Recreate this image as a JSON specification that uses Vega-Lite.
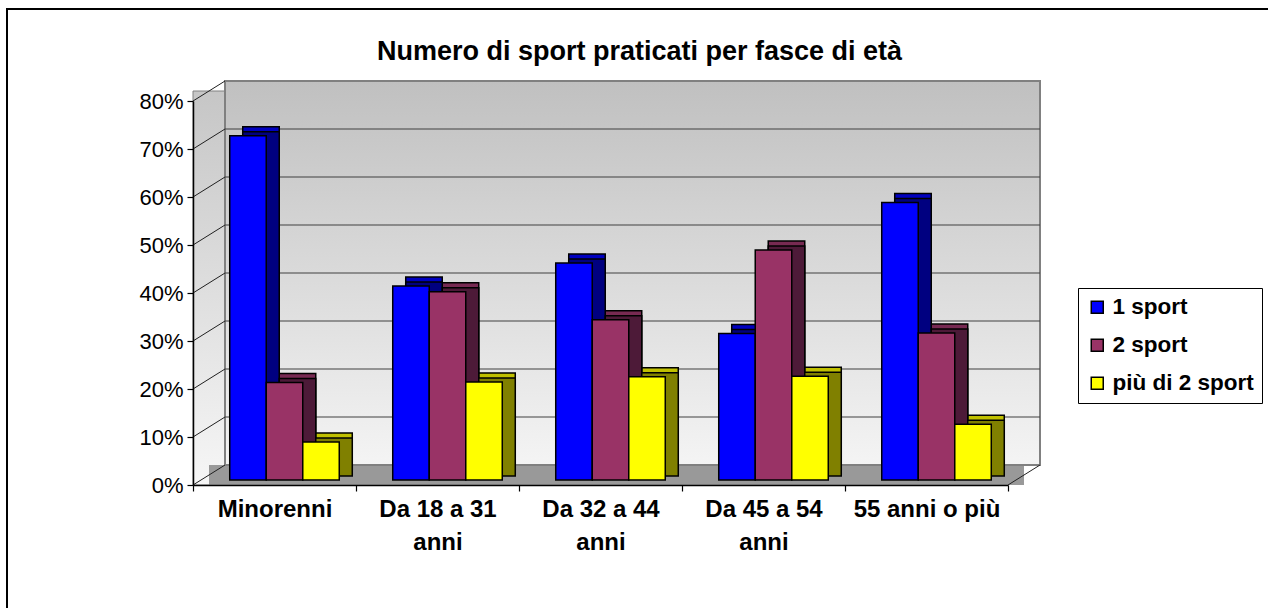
{
  "$schema": "https://vega.github.io/schema/vega-lite/v6.json",
  "width": 815,
  "height": 384,
  "autosize": {"type": "none"},
  "padding": {"left": 193, "top": 101, "right": 260, "bottom": 123},
  "background": "white",
  "title": {
    "text": "Numero di sport praticati per fasce di età",
    "font": "Liberation Sans",
    "fontSize": 27,
    "fontWeight": "bold",
    "color": "black",
    "anchor": "middle",
    "frame": "group",
    "dx": 39,
    "offset": -79,
    "baseline": "alphabetic"
  },
  "datasets": {
    "sport": [
      {"fascia": "Minorenni", "sport": "1 sport", "valore": 0.717},
      {"fascia": "Minorenni", "sport": "2 sport", "valore": 0.203},
      {"fascia": "Minorenni", "sport": "più di 2 sport", "valore": 0.079},
      {"fascia": "Da 18 a 31 anni", "sport": "1 sport", "valore": 0.404},
      {"fascia": "Da 18 a 31 anni", "sport": "2 sport", "valore": 0.392},
      {"fascia": "Da 18 a 31 anni", "sport": "più di 2 sport", "valore": 0.204},
      {"fascia": "Da 32 a 44 anni", "sport": "1 sport", "valore": 0.452},
      {"fascia": "Da 32 a 44 anni", "sport": "2 sport", "valore": 0.334},
      {"fascia": "Da 32 a 44 anni", "sport": "più di 2 sport", "valore": 0.215},
      {"fascia": "Da 45 a 54 anni", "sport": "1 sport", "valore": 0.305},
      {"fascia": "Da 45 a 54 anni", "sport": "2 sport", "valore": 0.479},
      {"fascia": "Da 45 a 54 anni", "sport": "più di 2 sport", "valore": 0.216},
      {"fascia": "55 anni o più", "sport": "1 sport", "valore": 0.578},
      {"fascia": "55 anni o più", "sport": "2 sport", "valore": 0.306},
      {"fascia": "55 anni o più", "sport": "più di 2 sport", "valore": 0.116}
    ],
    "livelli": [
      {"pct": 0.1}, {"pct": 0.2}, {"pct": 0.3}, {"pct": 0.4},
      {"pct": 0.5}, {"pct": 0.6}, {"pct": 0.7}
    ],
    "diagonali": [
      {"pct": 0}, {"pct": 0.1}, {"pct": 0.2}, {"pct": 0.3}, {"pct": 0.4},
      {"pct": 0.5}, {"pct": 0.6}, {"pct": 0.7}, {"pct": 0.8}
    ],
    "uno": [{"k": 1}]
  },
  "layer": [
    {
      "layer": [
        {
          "data": {"name": "uno"},
          "mark": {
            "type": "rect",
            "color": {"gradient": "linear", "x1": 0, "y1": 0, "x2": 0, "y2": 1,
              "stops": [{"offset": 0, "color": "#c6c6c6"}, {"offset": 1, "color": "#f6f6f6"}]},
            "stroke": "#808080", "strokeWidth": 1,
            "x2Offset": 32, "yOffset": -10
          },
          "encoding": {
            "x": {"datum": 0, "type": "quantitative", "scale": {"domain": [0, 1]}, "axis": null},
            "x2": {"datum": 0},
            "y": {"datum": 0.8, "type": "quantitative", "scale": {"domain": [0, 0.8], "nice": false}, "axis": null},
            "y2": {"datum": 0}
          }
        },
        {
          "data": {"name": "uno"},
          "mark": {"type": "rect", "color": "#999999", "xOffset": 16, "x2Offset": 16, "yOffset": -20},
          "encoding": {
            "x": {"datum": 0, "type": "quantitative", "axis": null},
            "x2": {"datum": 1},
            "y": {"datum": 0, "type": "quantitative", "axis": null},
            "y2": {"datum": 0}
          }
        },
        {
          "data": {"name": "uno"},
          "mark": {
            "type": "rect",
            "color": {"gradient": "linear", "x1": 0, "y1": 0, "x2": 0, "y2": 1,
              "stops": [{"offset": 0, "color": "#c0c0c0"}, {"offset": 1, "color": "#f4f4f4"}]},
            "stroke": "#808080", "strokeWidth": 2,
            "xOffset": 32, "x2Offset": 32, "yOffset": -20, "y2Offset": -20
          },
          "encoding": {
            "x": {"datum": 0, "type": "quantitative", "axis": null},
            "x2": {"datum": 1},
            "y": {"datum": 0.8, "type": "quantitative", "axis": null},
            "y2": {"datum": 0}
          }
        },
        {
          "data": {"name": "livelli"},
          "mark": {"type": "rule", "color": "#404040", "strokeWidth": 1.2, "xOffset": 32, "x2Offset": 32, "yOffset": -20},
          "encoding": {
            "x": {"datum": 0, "type": "quantitative", "axis": null},
            "x2": {"datum": 1},
            "y": {"field": "pct", "type": "quantitative", "axis": null}
          }
        },
        {
          "data": {"name": "diagonali"},
          "mark": {"type": "rule", "color": "#202020", "strokeWidth": 1, "x2Offset": 32, "y2Offset": -20},
          "encoding": {
            "x": {"datum": 0, "type": "quantitative", "axis": null},
            "x2": {"datum": 0},
            "y": {"field": "pct", "type": "quantitative", "axis": null},
            "y2": {"field": "pct"}
          }
        },
        {
          "data": {"name": "uno"},
          "mark": {"type": "rule", "color": "#202020", "strokeWidth": 1, "x2Offset": 32, "y2Offset": -20},
          "encoding": {
            "x": {"datum": 1, "type": "quantitative", "axis": null},
            "x2": {"datum": 1},
            "y": {"datum": 0, "type": "quantitative", "axis": null},
            "y2": {"datum": 0}
          }
        },
        {
          "data": {"name": "uno"},
          "mark": {"type": "rect", "filled": false, "color": "black", "strokeWidth": 2,
            "xOffset": -186, "x2Offset": 300, "yOffset": -92, "y2Offset": 200},
          "encoding": {
            "x": {"datum": 0, "type": "quantitative", "axis": null},
            "x2": {"datum": 1},
            "y": {"datum": 0.8, "type": "quantitative", "axis": null},
            "y2": {"datum": 0}
          }
        }
      ]
    },
    {
      "data": {"name": "sport"},
      "encoding": {
        "xOffset": {"field": "sport", "sort": ["1 sport", "2 sport", "più di 2 sport"], "scale": {"paddingInner": 0}},
        "y": {"field": "valore", "type": "quantitative", "axis": null}
      },
      "layer": [
        {
          "mark": {"type": "bar", "yOffset": -14, "y2Offset": -14, "stroke": "black", "strokeWidth": 1.5},
          "encoding": {
            "x": {"field": "fascia", "type": "nominal",
              "sort": ["Minorenni", "Da 18 a 31 anni", "Da 32 a 44 anni", "Da 45 a 54 anni", "55 anni o più"],
              "scale": {"paddingInner": 0.328, "paddingOuter": 0.164, "range": [23, 838]}, "axis": null},
            "color": {"field": "sport", "type": "nominal",
              "scale": {"domain": ["1 sport", "2 sport", "più di 2 sport"], "range": ["#0000c0", "#772a52", "#c0c000"]},
              "legend": null}
          }
        },
        {
          "mark": {"type": "bar", "yOffset": -9, "y2Offset": -9, "stroke": "black", "strokeWidth": 1.5},
          "encoding": {
            "x": {"field": "fascia", "type": "nominal",
              "sort": ["Minorenni", "Da 18 a 31 anni", "Da 32 a 44 anni", "Da 45 a 54 anni", "55 anni o più"],
              "scale": {"paddingInner": 0.328, "paddingOuter": 0.164, "range": [23, 838]}, "axis": null},
            "color": {"field": "sport", "type": "nominal",
              "scale": {"domain": ["1 sport", "2 sport", "più di 2 sport"], "range": ["#000080", "#4d1a38", "#808000"]},
              "legend": null}
          }
        },
        {
          "mark": {"type": "bar", "yOffset": -5, "y2Offset": -5, "stroke": "black", "strokeWidth": 1.5, "opacity": 1},
          "encoding": {
            "x": {"field": "fascia", "type": "nominal",
              "sort": ["Minorenni", "Da 18 a 31 anni", "Da 32 a 44 anni", "Da 45 a 54 anni", "55 anni o più"],
              "scale": {"paddingInner": 0.328, "paddingOuter": 0.164, "range": [10, 825]}, "axis": null},
            "color": {"field": "sport", "type": "nominal",
              "scale": {"domain": ["1 sport", "2 sport", "più di 2 sport"], "range": ["#0000ff", "#993366", "#ffff00"]},
              "legend": {
                "title": null, "orient": "none", "legendX": 885, "legendY": 187,
                "direction": "vertical",
                "strokeColor": "black", "fillColor": "white", "padding": 8,
                "symbolType": "square", "symbolSize": 144, "symbolStrokeColor": "black",
                "symbolStrokeWidth": 1.5, "symbolOpacity": 1,
                "labelFont": "Liberation Sans", "labelFontSize": 22.5, "labelFontWeight": "bold",
                "labelColor": "black", "labelOffset": 4, "rowPadding": 15, "labelLimit": 0
              }}
          }
        }
      ],
      "resolve": {"scale": {"x": "independent", "color": "independent"}, "legend": {"color": "independent"}}
    },
    {
      "data": {"name": "sport"},
      "mark": {"type": "point", "opacity": 0},
      "encoding": {
        "x": {
          "field": "fascia", "type": "nominal",
          "sort": ["Minorenni", "Da 18 a 31 anni", "Da 32 a 44 anni", "Da 45 a 54 anni", "55 anni o più"],
          "scale": {"paddingInner": 0, "paddingOuter": 0},
          "axis": {
            "title": null, "zindex": 1,
            "domainColor": "black", "domainWidth": 1.5,
            "tickColor": "black", "tickSize": 6, "tickWidth": 1.2, "tickBand": "extent",
            "labelFont": "Liberation Sans", "labelFontSize": 24, "labelFontWeight": "bold",
            "labelColor": "black", "labelPadding": 6, "labelLineHeight": 33,
            "labelAngle": 0, "labelLimit": 0, "labelOverlap": false,
            "labelExpr": "indexof(datum.label, 'Da ') == 0 ? [substring(datum.label, 0, lastindexof(datum.label, ' ')), 'anni'] : datum.label"
          }
        },
        "y": {
          "field": "valore", "type": "quantitative",
          "axis": {
            "title": null, "zindex": 1, "format": ".0%", "values": [0, 0.1, 0.2, 0.3, 0.4, 0.5, 0.6, 0.7, 0.8],
            "grid": false,
            "domainColor": "black", "domainWidth": 1.5,
            "tickColor": "black", "tickSize": 6, "tickWidth": 1.2,
            "labelFont": "Liberation Sans", "labelFontSize": 22, "labelColor": "black", "labelPadding": 4
          }
        }
      }
    }
  ],
  "resolve": {"scale": {"x": "independent", "color": "independent"}, "axis": {"x": "independent", "y": "independent"}},
  "config": {"view": {"stroke": null}}
}
